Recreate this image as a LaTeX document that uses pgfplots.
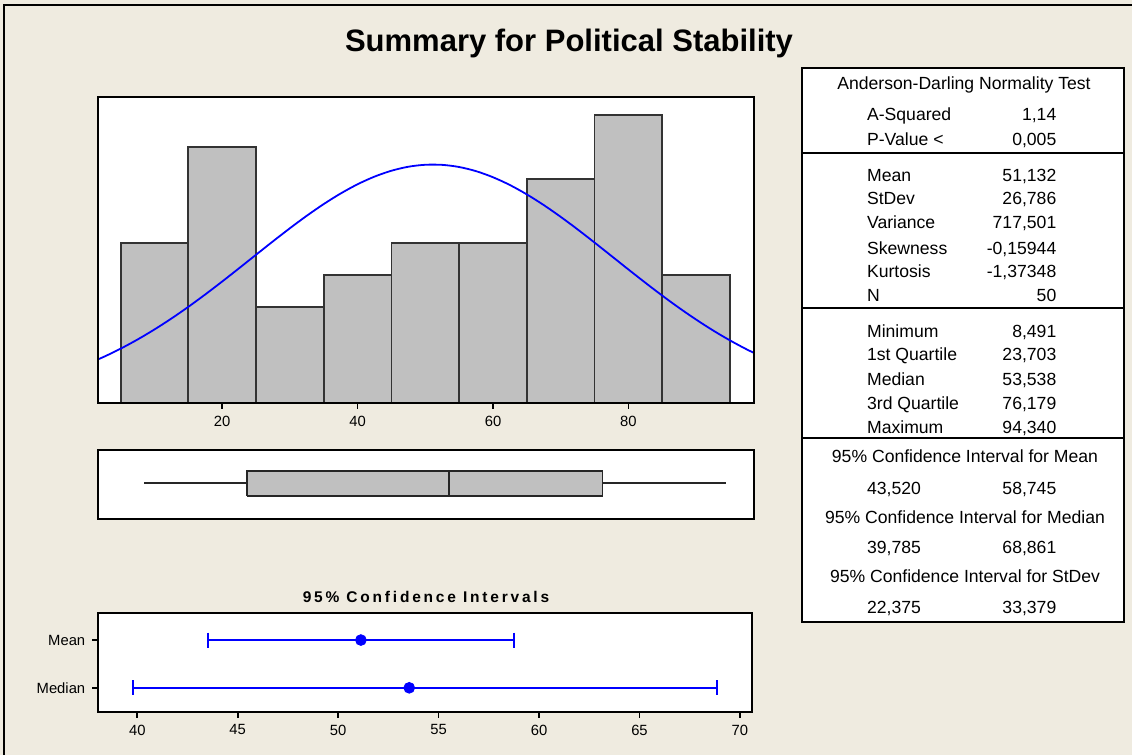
\documentclass[border=0pt]{standalone}
\usepackage{fontspec}
\setmainfont{Liberation Sans}
\newfontfamily\spaced[LetterSpace=18]{Liberation Sans}
\usepackage{pgfplots}
\pgfplotsset{compat=1.18}
\definecolor{bg}{RGB}{239,235,224}
\definecolor{barc}{RGB}{192,192,192}
\newcommand\tabfont{\fontsize{8.8}{10}\selectfont}
\begin{document}
\begin{tikzpicture}
\useasboundingbox (0,0) rectangle (566pt,-377.5pt);
\fill[bg] (0,0) rectangle (566pt,-377.5pt);
\draw[line width=1pt] (2pt,-377.5pt) -- (2pt,-2.5pt) -- (566pt,-2.5pt);

\pgfplotsset{mystyle/.style={scale only axis, anchor=south west,
  axis background/.style={fill=white},
  axis line style={line width=1pt},
  tick style={line width=0.8pt, black},
  major tick length=3pt, tick align=outside,
  tick label style={font=\fontsize{7.4}{8.5}\selectfont},
  /pgf/number format/assume math mode=true,
  axis on top}}

% Histogram
\begin{axis}[mystyle, at={(49.15pt,-201.35pt)}, width=327.85pt, height=152.7pt,
  xmin=1.7, xmax=98.55, ymin=0, ymax=9.55,
  xtick={20,40,60,80}, ytick=\empty, xtick pos=bottom]
\addplot[ybar interval, fill=barc, draw=black!80, line width=0.9pt] coordinates {
(5,5)(15,8)(25,3)(35,4)(45,5)(55,5)(65,7)(75,9)(85,4)(95,4)};
\addplot[blue, line width=0.9pt, smooth] coordinates {
(0,1.2045)(2.5,1.4330)(5,1.690)(7.5,1.9761)(10,2.2907)(12.5,2.6321)(15,2.998)(17.5,3.3858)
(20,3.790)(22.5,4.2061)(25,4.627)(27.5,5.0462)(30,5.455)(32.5,5.847)(35,6.212)(37.5,6.5424)
(40,6.831)(42.5,7.070)(45,7.254)(47.5,7.379)(50,7.440)(52.5,7.437)(55,7.370)(57.5,7.240)
(60,7.050)(62.5,6.806)(65,6.513)(67.5,6.179)(70,5.811)(72.5,5.418)(75,5.007)(77.5,4.587)
(80,4.166)(82.5,3.7514)(85,3.348)(87.5,2.9627)(90,2.599)(92.5,2.2598)(95,1.948)(97.5,1.6646)(100,1.410)};
\end{axis}

% Boxplot
\begin{axis}[mystyle, at={(49.15pt,-259.35pt)}, width=327.85pt, height=34.35pt,
  xmin=1.7, xmax=98.55, ymin=0, ymax=1, xtick=\empty, ytick=\empty]
\addplot[black!85, line width=0.9pt] coordinates {(8.491,0.516)(23.703,0.516)};
\addplot[black!85, line width=0.9pt] coordinates {(76.179,0.516)(94.34,0.516)};
\addplot[fill=barc, draw=black!85, line width=0.9pt] coordinates {(23.703,0.33)(76.179,0.33)(76.179,0.694)(23.703,0.694)(23.703,0.33)};
\addplot[black!85, line width=0.9pt] coordinates {(53.538,0.33)(53.538,0.694)};
\end{axis}

% Confidence intervals
\begin{axis}[mystyle, at={(49.15pt,-355.85pt)}, width=326.85pt, height=49.2pt,
  xmin=38.06, xmax=70.6, ymin=0.5, ymax=2.56,
  xtick={40,45,...,70}, ytick={1,2}, yticklabels={Median,Mean},
  xtick pos=bottom, ytick pos=left]
\addplot[blue, line width=1pt, mark=|, mark size=3.75pt, mark options={line width=1pt}] coordinates {(43.52,2)(58.745,2)};
\addplot[blue, only marks, mark=*, mark size=2.7pt] coordinates {(51.132,2)};
\addplot[blue, line width=1pt, mark=|, mark size=3.75pt, mark options={line width=1pt}] coordinates {(39.785,1)(68.861,1)};
\addplot[blue, only marks, mark=*, mark size=2.7pt] coordinates {(53.538,1)};
\end{axis}

\begin{scope}[x=0.5pt, y=-0.5pt]
\node[anchor=base, inner sep=0, font=\fontsize{15.5}{18}\selectfont\bfseries] at (569,52) {Summary for Political Stability};
\node[anchor=base, inner sep=0, font=\fontsize{7.75}{9}\spaced\bfseries] at (426,602) {95\% Confidence Intervals};

\draw[line width=1pt, fill=white] (801.7,68) rectangle (1124.3,621.7);
\draw[line width=1pt] (801.7,152.7) -- (1124.3,152.7);
\draw[line width=1pt] (801.7,308.3) -- (1124.3,308.3);
\draw[line width=1pt] (801.7,437.7) -- (1124.3,437.7);

\tikzset{L/.style={anchor=base west, inner sep=0, font=\tabfont},
         R/.style={anchor=base east, inner sep=0, font=\tabfont},
         C/.style={anchor=base, inner sep=0, font=\tabfont}}
\node[C] at (964,90) {Anderson-Darling Normality Test};
\node[L] at (866.7,120) {A-Squared};   \node[R] at (1056.7,120) {1,14};
\node[L] at (866.7,145) {P-Value <};   \node[R] at (1056.7,145) {0,005};
\node[L] at (866.7,181) {Mean};        \node[R] at (1056.7,181) {51,132};
\node[L] at (866.7,204) {StDev};       \node[R] at (1056.7,204) {26,786};
\node[L] at (866.7,228) {Variance};    \node[R] at (1056.7,228) {717,501};
\node[L] at (866.7,254) {Skewness};    \node[R] at (1056.7,254) {-0,15944};
\node[L] at (866.7,277) {Kurtosis};    \node[R] at (1056.7,277) {-1,37348};
\node[L] at (866.7,301) {N};           \node[R] at (1056.7,301) {50};
\node[L] at (866.7,337) {Minimum};     \node[R] at (1056.7,337) {8,491};
\node[L] at (866.7,360) {1st Quartile};\node[R] at (1056.7,360) {23,703};
\node[L] at (866.7,385) {Median};      \node[R] at (1056.7,385) {53,538};
\node[L] at (866.7,409) {3rd Quartile};\node[R] at (1056.7,409) {76,179};
\node[L] at (866.7,433) {Maximum};     \node[R] at (1056.7,433) {94,340};
\node[C] at (965,462) {95\% Confidence Interval for Mean};
\node[L] at (866.7,494) {43,520};      \node[R] at (1056.7,494) {58,745};
\node[C] at (965,523) {95\% Confidence Interval for Median};
\node[L] at (866.7,553) {39,785};      \node[R] at (1056.7,553) {68,861};
\node[C] at (965,582) {95\% Confidence Interval for StDev};
\node[L] at (866.7,613) {22,375};      \node[R] at (1056.7,613) {33,379};
\end{scope}
\end{tikzpicture}
\end{document}
